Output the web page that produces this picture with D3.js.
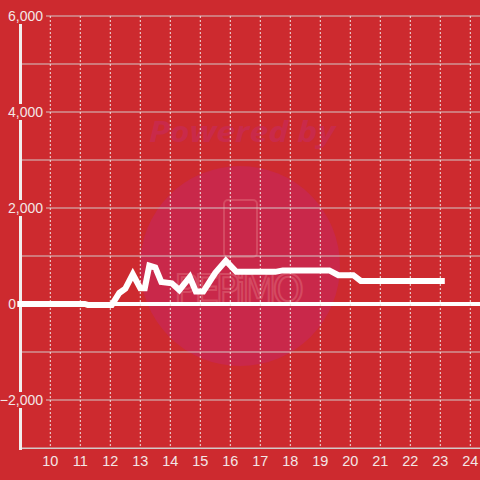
<!DOCTYPE html>
<html>
<head>
<meta charset="utf-8">
<script src="https://cdn.jsdelivr.net/npm/d3@7"></script>
<style>
body{margin:0;background:#cd2a2f;}
svg{display:block;}
</style>
</head>
<body>
<div id="chart"></div>
<script>
// hours and values
var hours=[8.9,11.15,11.25,12.05,12.3,12.5,12.75,13.0,13.15,13.3,13.5,13.7,14.05,14.3,14.65,14.85,15.1,15.5,15.85,16.2,17.5,17.75,19.3,19.6,20.1,20.35,23.15];
var values=[0,0,-20,-20,230,320,620,330,330,800,760,460,430,290,560,260,260,650,900,670,670,700,700,600,600,480,480];
var xTicks=[10,11,12,13,14,15,16,17,18,19,20,21,22,23,24];
var yTicks=[-2000,0,2000,4000,6000];
var yGrid=[-3000,-2000,-1000,0,1000,2000,3000,4000,5000,6000];

var W=480,H=480,bg="#cd2a2f";
var x=d3.scaleLinear().domain([9,24]).range([20.3,470.3]);
var y=d3.scaleLinear().domain([-3000,6000]).range([448,16]);

var svg=d3.select("#chart").append("svg").attr("width",W).attr("height",H);
svg.append("rect").attr("width",W).attr("height",H).attr("fill",bg);

// watermark
var wm=svg.append("g");
wm.append("circle").attr("cx",240).attr("cy",266).attr("r",100).attr("fill","#c9284a");
wm.append("text").attr("x",242).attr("y",142).attr("text-anchor","middle")
  .attr("font-family","Open Sans").attr("font-weight","bold").attr("font-style","italic")
  .attr("font-size",29).attr("textLength",186).attr("lengthAdjust","spacingAndGlyphs")
  .attr("fill","#c92a4a").text("Powered by");
wm.append("rect").attr("x",224).attr("y",200).attr("width",33).attr("height",57).attr("rx",4)
  .attr("fill","none").attr("stroke","#d44a62").attr("stroke-width",2);
wm.append("text").attr("x",239).attr("y",304).attr("text-anchor","middle")
  .attr("font-family","DejaVu Sans").attr("font-size",40).attr("textLength",130)
  .attr("fill","none").attr("stroke","#d44a62").attr("stroke-width",2).text("PEPiMO");

// horizontal grid
svg.selectAll(".hg").data(yGrid).enter().append("line")
  .attr("x1",22).attr("x2",W)
  .attr("y1",function(d){return y(d);}).attr("y2",function(d){return y(d);})
  .attr("stroke",function(d){return d==0?"#ffffff":"#d4c8c8";})
  .attr("stroke-width",function(d){return d==0?4:1.2;});

// vertical dashed grid
svg.selectAll(".vg").data(xTicks).enter().append("line")
  .attr("x1",function(d){return x(d);}).attr("x2",function(d){return x(d);})
  .attr("y1",16).attr("y2",448)
  .attr("stroke","#f0e4e4").attr("stroke-width",1).attr("stroke-dasharray","2,2");

// x axis line
svg.append("line").attr("x1",20).attr("x2",W).attr("y1",448.5).attr("y2",448.5)
  .attr("stroke","#d4c8c8").attr("stroke-width",1.2);
// y axis line
svg.append("line").attr("x1",20.5).attr("x2",20.5).attr("y1",8).attr("y2",450)
  .attr("stroke","#f2eeee").attr("stroke-width",3);

// data line
var line=d3.line().x(function(d,i){return x(hours[i]);}).y(function(d){return y(d);});
svg.append("path").datum(values).attr("d",line)
  .attr("fill","none").attr("stroke","#ffffff").attr("stroke-width",6)
  .attr("stroke-linejoin","miter").attr("stroke-linecap","butt");

// y labels with background
var fmt=d3.format(",");
var yl=svg.selectAll(".yl").data(yTicks).enter().append("g")
  .attr("transform",function(d){return "translate(0,"+y(d)+")";});
yl.filter(function(d){return d!=0;}).append("rect").attr("x",0).attr("y",-8).attr("width",46).attr("height",16).attr("fill",bg);
yl.append("text").attr("x",function(d){return d==0?16:43;}).attr("y",5).attr("text-anchor","end")
  .attr("font-family","Liberation Sans").attr("font-size",14).attr("fill","#f3e6e6")
  .text(function(d){return fmt(d);});

// x labels
svg.selectAll(".xl").data(xTicks).enter().append("text")
  .attr("x",function(d){return x(d);}).attr("y",466).attr("text-anchor","middle")
  .attr("font-family","Liberation Sans").attr("font-size",14.5).attr("fill","#f3e6e6")
  .text(function(d){return d;});
</script>
</body>
</html>
